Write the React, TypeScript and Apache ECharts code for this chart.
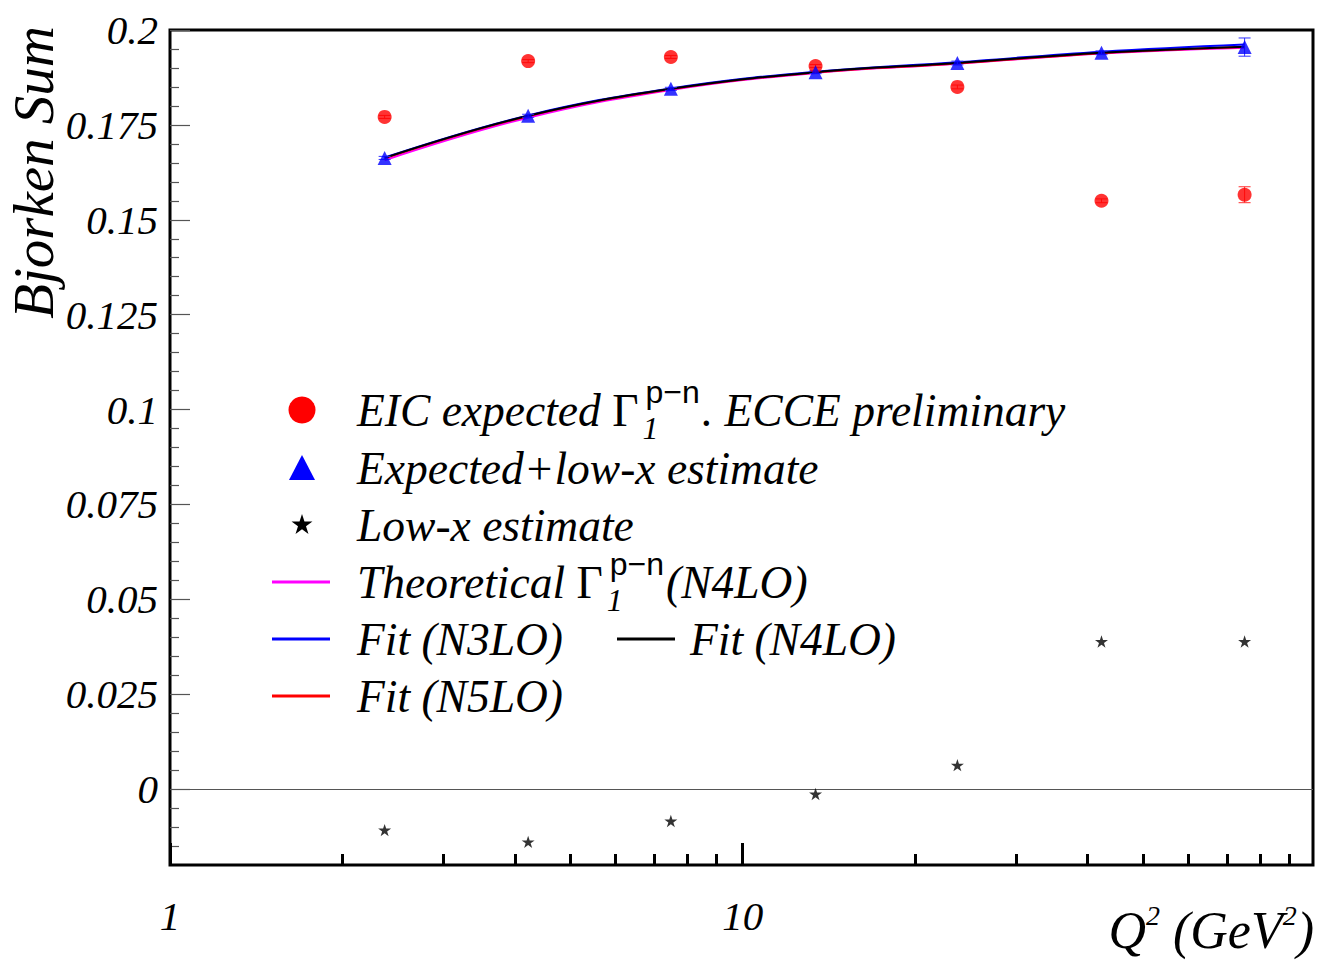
import React, { useEffect, useRef } from "react";
import * as echarts from "echarts";

// Q^2 values (GeV^2) of the seven bins
const q2Values = [2.37, 4.22, 7.49, 13.4, 23.7, 42.3, 75.2];

// EIC expected Gamma_1^{p-n}
const eicExpected = [0.1771, 0.1918, 0.1929, 0.1905, 0.185, 0.155, 0.1566];
const eicErrors = [0.0004, 0.0004, 0.0004, 0.0004, 0.0005, 0.0005, 0.0021];

// Expected + low-x estimate
const expectedLowX = [0.1663, 0.1774, 0.1845, 0.1889, 0.1913, 0.194, 0.1955];
const expectedLowXErrors = [0.0004, 0.0004, 0.0004, 0.0004, 0.0005, 0.0005, 0.0024];

// Low-x estimate alone
const lowXEstimate = [-0.0108, -0.0139, -0.0084, -0.0013, 0.0063, 0.0389, 0.0389];

// Curves
const theoryN4LO = [0.1657, 0.1769, 0.1842, 0.1887, 0.1911, 0.1938, 0.1953];
const fitN3LO = [0.1664, 0.1775, 0.1846, 0.189, 0.1915, 0.1943, 0.1962];
const fitN4LO = [0.1663, 0.1774, 0.1845, 0.1889, 0.1913, 0.194, 0.1956];
const fitN5LO = [0.1662, 0.1773, 0.1844, 0.1888, 0.1912, 0.1939, 0.1955];

// Axis ticks
const xMajorTicks = [1, 10];
const xMinorTicks = [2, 3, 4, 5, 6, 7, 8, 9, 20, 30, 40, 50, 60, 70, 80, 90];
const yMajorTicks = [0, 0.025, 0.05, 0.075, 0.1, 0.125, 0.15, 0.175, 0.2];
const yMinorTicks = [
  -0.015, -0.01, -0.005, 0.005, 0.01, 0.015, 0.02, 0.03, 0.035, 0.04, 0.045,
  0.055, 0.06, 0.065, 0.07, 0.08, 0.085, 0.09, 0.095, 0.105, 0.11, 0.115, 0.12,
  0.13, 0.135, 0.14, 0.145, 0.155, 0.16, 0.165, 0.17, 0.18, 0.185, 0.19, 0.195,
];

const SERIF = "'Liberation Serif', 'Times New Roman', serif";
const SANS = "'Liberation Sans', Arial, sans-serif";

// five-pointed star glyph in a 24x24 box
const STAR_PTS: number[][] = [
  [12, 0], [14.7, 8.28], [23.41, 8.29], [16.37, 13.42], [19.05, 21.71],
  [12, 16.6], [4.95, 21.71], [7.63, 13.42], [0.59, 8.29], [9.3, 8.28],
];
const STAR_PATH =
  "path://M" + STAR_PTS.map((p) => p[0] + "," + p[1]).join(" L") + " Z";

function measure(text: string, font: string): number {
  const c = document.createElement("canvas").getContext("2d");
  if (!c) return text.length * 20;
  c.font = font;
  return c.measureText(text).width;
}

const pairs = (ys: number[]) => q2Values.map((x, i) => [x, ys[i]]);
const triples = (ys: number[], es: number[]) => q2Values.map((x, i) => [x, ys[i], es[i]]);

function errorBar(color: string) {
  return (params: any, api: any) => {
    const x = api.value(0);
    const y = api.value(1);
    const e = api.value(2);
    const top = api.coord([x, y + e]);
    const bot = api.coord([x, y - e]);
    const hw = 6;
    const style = { stroke: color, lineWidth: 1 };
    return {
      type: "group",
      children: [
        { type: "line", shape: { x1: top[0], y1: top[1], x2: bot[0], y2: bot[1] }, style },
        { type: "line", shape: { x1: top[0] - hw, y1: top[1], x2: top[0] + hw, y2: top[1] }, style },
        { type: "line", shape: { x1: bot[0] - hw, y1: bot[1], x2: bot[0] + hw, y2: bot[1] }, style },
      ],
    };
  };
}

function buildLegend(): any[] {
  const fs = 45.5;
  const mainFont = `italic ${fs}px ${SERIF}`;
  const gammaFont = `${fs}px ${SERIF}`;
  const supFs = 32;
  const subFs = 32;
  const supFont = `${supFs}px ${SANS}`;
  const subFont = `italic ${subFs}px ${SERIF}`;
  const symX = 302;
  const textX = 357;
  const rows = [410, 468, 525, 582, 639, 696];
  const els: any[] = [];

  const txt = (x: number, y: number, text: string, opts: any = {}) => ({
    type: "text",
    x,
    y,
    style: {
      text,
      fill: "#000",
      fontSize: fs,
      fontFamily: SERIF,
      fontStyle: "italic",
      verticalAlign: "middle",
      align: "left",
      ...opts,
    },
  });

  const gammaEntry = (y: number, before: string, after: string) => {
    let x = textX;
    els.push(txt(x, y, before));
    x += measure(before, mainFont);
    els.push(txt(x, y, "\u0393", { fontStyle: "normal" }));
    x += measure("\u0393", gammaFont) + 4;
    els.push(txt(x + 3, y - 18, "p\u2212n", { fontStyle: "normal", fontFamily: SANS, fontSize: supFs }));
    els.push(txt(x, y + 18, "1", { fontSize: subFs, lineHeight: 28 }));
    const w = Math.max(measure("p\u2212n", supFont) + 3, measure("1", subFont));
    x += w + 2;
    els.push(txt(x, y, after));
  };

  // symbols
  els.push({ type: "circle", shape: { cx: symX, cy: rows[0], r: 13.5 }, style: { fill: "#ff0000" } });
  els.push({
    type: "polygon",
    shape: { points: [[symX - 13, rows[1] + 12], [symX + 13, rows[1] + 12], [symX, rows[1] - 13]] },
    style: { fill: "#0000ff" },
  });
  const s = 22 / 24;
  els.push({
    type: "polygon",
    shape: { points: STAR_PTS.map((p) => [symX - 11 + p[0] * s, rows[2] - 11 + p[1] * s]) },
    style: { fill: "#000" },
  });
  const seg = (x1: number, x2: number, y: number, color: string) => ({
    type: "line",
    shape: { x1, y1: y, x2, y2: y },
    style: { stroke: color, lineWidth: 3 },
  });
  els.push(seg(272, 330, rows[3], "#ff00ff"));
  els.push(seg(272, 330, rows[4], "#0000ff"));
  els.push(seg(272, 330, rows[5], "#ff0000"));
  els.push(seg(617, 675, rows[4], "#000000"));

  // labels
  gammaEntry(rows[0], "EIC expected ", ". ECCE preliminary");
  els.push(txt(textX, rows[1], "Expected+low-x estimate"));
  els.push(txt(textX, rows[2], "Low-x estimate"));
  gammaEntry(rows[3], "Theoretical ", "(N4LO)");
  els.push(txt(textX, rows[4], "Fit (N3LO)"));
  els.push(txt(690, rows[4], "Fit (N4LO)"));
  els.push(txt(textX, rows[5], "Fit (N5LO)"));

  return els;
}

export default function App() {
  const ref = useRef<HTMLDivElement>(null);

  useEffect(() => {
    if (!ref.current) return;
    const chart = echarts.init(ref.current, undefined, { renderer: "svg" });

    const tickLabel = {
      color: "#000",
      fontFamily: SERIF,
      fontStyle: "italic",
      fontSize: 41,
    };

    const lineSeries = (name: string, ys: number[], color: string) => ({
      name,
      type: "line",
      data: pairs(ys),
      showSymbol: false,
      smooth: 0.4,
      lineStyle: { color, width: 2 },
      z: 3,
    });

    const logAxisBase = {
      type: "log",
      logBase: 10,
      min: 1,
      max: 99,
      position: "bottom",
      axisLine: { show: false, onZero: false },
      splitLine: { show: false },
    };

    const option: any = {
      animation: false,
      backgroundColor: "#fff",
      grid: {
        left: 170,
        top: 30,
        right: 6,
        bottom: 99,
        show: true,
        borderColor: "#000",
        borderWidth: 3,
        backgroundColor: "transparent",
      },
      xAxis: [
        {
          ...logAxisBase,
          axisTick: {
            show: true,
            inside: true,
            length: 22,
            customValues: xMajorTicks,
            lineStyle: { color: "#000", width: 3 },
          },
          axisLabel: { ...tickLabel, margin: 30, customValues: xMajorTicks },
        },
        {
          ...logAxisBase,
          axisTick: {
            show: true,
            inside: true,
            length: 11,
            customValues: xMinorTicks,
            lineStyle: { color: "#000", width: 3 },
          },
          axisLabel: { show: false },
        },
      ],
      yAxis: [
        {
          type: "value",
          min: -0.02,
          max: 0.2,
          axisLine: { show: false, onZero: false },
          splitLine: { show: false },
          axisTick: {
            show: true,
            inside: true,
            length: 20,
            customValues: yMajorTicks,
            lineStyle: { color: "#555", width: 1.2 },
          },
          axisLabel: { ...tickLabel, margin: 12, customValues: yMajorTicks },
        },
        {
          type: "value",
          min: -0.02,
          max: 0.2,
          position: "left",
          axisLine: { show: false, onZero: false },
          splitLine: { show: false },
          axisTick: {
            show: true,
            inside: true,
            length: 9,
            customValues: yMinorTicks,
            lineStyle: { color: "#555", width: 1.2 },
          },
          axisLabel: { show: false },
        },
      ],
      series: [
        lineSeries("Theoretical (N4LO)", theoryN4LO, "#ff00ff"),
        lineSeries("Fit (N5LO)", fitN5LO, "#ff0000"),
        lineSeries("Fit (N3LO)", fitN3LO, "#0000ff"),
        lineSeries("Fit (N4LO)", fitN4LO, "#000000"),
        {
          type: "custom",
          name: "EIC errors",
          data: triples(eicExpected, eicErrors),
          renderItem: errorBar("#ff3030"),
          z: 4,
          silent: true,
        },
        {
          type: "custom",
          name: "Expected errors",
          data: triples(expectedLowX, expectedLowXErrors),
          renderItem: errorBar("#3030ff"),
          z: 4,
          silent: true,
        },
        {
          name: "EIC expected",
          type: "scatter",
          data: pairs(eicExpected),
          symbol: "circle",
          symbolSize: 14,
          itemStyle: { color: "#ff0000" },
          z: 5,
        },
        {
          name: "Expected+low-x estimate",
          type: "scatter",
          data: pairs(expectedLowX),
          symbol: "triangle",
          symbolSize: 14,
          itemStyle: { color: "#0000ff" },
          z: 5,
        },
        {
          name: "Low-x estimate",
          type: "scatter",
          data: pairs(lowXEstimate),
          symbol: STAR_PATH,
          symbolSize: 13,
          symbolKeepAspect: true,
          itemStyle: { color: "#000" },
          z: 5,
          markLine: {
            silent: true,
            symbol: "none",
            label: { show: false },
            lineStyle: { color: "#555", width: 1, type: "solid" },
            data: [{ yAxis: 0 }],
          },
        },
      ],
      graphic: [
        {
          type: "text",
          x: 33,
          y: 26,
          rotation: Math.PI / 2,
          style: {
            text: "Bjorken Sum",
            fill: "#000",
            fontSize: 57,
            fontFamily: SERIF,
            fontStyle: "italic",
            align: "right",
            verticalAlign: "middle",
          },
        },
        {
          type: "text",
          x: 1314,
          y: 930,
          style: {
            text: "{m|Q}{s|2}{m| (GeV}{s|2}{m|)}",
            align: "right",
            verticalAlign: "middle",
            rich: {
              m: { fontSize: 52, fontFamily: SERIF, fontStyle: "italic", fill: "#000", lineHeight: 58 },
              s: { fontSize: 28, fontFamily: SERIF, fontStyle: "italic", fill: "#000", verticalAlign: "top", lineHeight: 30 },
            },
          },
        },
        ...buildLegend(),
      ],
    };

    chart.setOption(option);
    return () => chart.dispose();
  }, []);

  return (
    <div
      ref={ref}
      style={{ position: "fixed", left: 0, top: 0, width: 1319, height: 964, background: "#fff" }}
    />
  );
}
